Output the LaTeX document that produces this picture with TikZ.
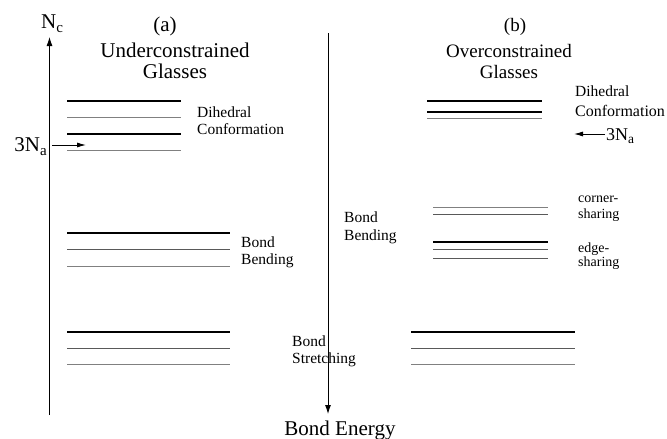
\documentclass[tikz,border=0pt]{standalone}
\usepackage{fontspec}
\setmainfont{Liberation Serif}
\usetikzlibrary{arrows.meta}
\newcommand{\mysub}[2]{\raisebox{-#2}{\fontsize{#1}{#1}\selectfont}}
\begin{document}
\begin{tikzpicture}[x=1pt,y=-1pt,
  big/.style={font=\fontsize{21}{24}\selectfont,inner sep=0pt},
  bigr/.style={font=\fontsize{19}{22}\selectfont,inner sep=0pt},
  small/.style={font=\fontsize{15.5}{17}\selectfont,inner sep=0pt,anchor=base west},
  tiny/.style={font=\fontsize{14}{16}\selectfont,inner sep=0pt,anchor=base west},
  lvA/.style={draw=black,line width=1.3pt},
  lvB/.style={draw=black!65,line width=0.9pt},
  lvC/.style={draw=black!50,line width=0.9pt},
  axis/.style={draw=black,line width=0.9pt,-{Latex[length=9pt,width=6pt]}},
  pt/.style={draw=black,line width=0.9pt,-{Latex[length=9pt,width=5pt]}}]
\useasboundingbox (0,0) rectangle (667,439);
% left axis
\node[big,anchor=base] (nc) at (52,28) {N\raisebox{-4pt}{\fontsize{15}{15}\selectfont c}};
\coordinate (lbot) at (49.5,415);
\coordinate (ltop) at (49.5,37);
\draw[axis] (lbot) -- (ltop);
% headers
\node[big,anchor=base] (ha) at (165,31) {(a)};
\node[big,anchor=base] (hua) at (175,57) {Underconstrained};
\node[big,anchor=base] (hga) at (175,78) {Glasses};
\node[bigr,anchor=base] (hb) at (515,31) {(b)};
\node[bigr,anchor=base] (hob) at (509,57) {Overconstrained};
\node[bigr,anchor=base] (hgb) at (509,78) {Glasses};
% left dihedral
\draw[lvA] (67,101) -- (181,101);
\draw[lvC] (67,117.5) -- (181,117.5);
\draw[lvA] (67,134) -- (181,134);
\draw[lvC] (67,150) -- (181,150);
\node[small] (dl1) at (197,117) {Dihedral};
\node[small] (dl2) at (197,134) {Conformation};
\node[big,anchor=base east] (na) at (47,151) {3N\raisebox{-4pt}{\fontsize{15}{15}\selectfont a}};
\coordinate (naa) at (86,145);
\draw[pt] (52,145) -- (naa);
% left bending
\draw[lvA] (67,233) -- (230,233);
\draw[lvB] (67,249) -- (230,249);
\draw[lvC] (67,266) -- (230,266);
\node[small] (bl1) at (241,247) {Bond};
\node[small] (bl2) at (241,264) {Bending};
% left stretching
\draw[lvA] (67,332) -- (230,332);
\draw[lvB] (67,348) -- (230,348);
\draw[lvC] (67,364.5) -- (230,364.5);
\node[small] (sl1) at (292,346) {Bond};
\node[small] (sl2) at (292,363) {Stretching};
% middle axis
\coordinate (mtop) at (328,33);
\coordinate (mbot) at (328,414);
\draw[axis] (mtop) -- (mbot);
\node[big,anchor=base] (be) at (340,435) {Bond Energy};
% right dihedral
\draw[lvA] (427,101) -- (542,101);
\draw[lvA] (427,112) -- (542,112);
\draw[lvC] (427,118.5) -- (542,118.5);
\node[small] (dr1) at (575,96) {Dihedral};
\node[small,font=\fontsize{16}{17}\selectfont] (dr2) at (575,116) {Conformation};
\node[inner sep=0pt,anchor=base west,font=\fontsize{18}{20}\selectfont] (nb) at (606,140) {3N\raisebox{-3.5pt}{\fontsize{13.5}{13.5}\selectfont a}};
\coordinate (nbb) at (574,134);
\draw[pt] (nb.west |- nbb) ++(-1,0) -- (nbb);
% right bending
\node[small] (br1) at (344,222) {Bond};
\node[small] (br2) at (344,240) {Bending};
\draw[lvC] (433,207) -- (548,207);
\draw[lvB] (433,214) -- (548,214);
\node[tiny] (cs1) at (578,202) {corner-};
\node[tiny] (cs2) at (578,218) {sharing};
\draw[lvA] (433,242) -- (548,242);
\draw[lvB] (433,249) -- (548,249);
\draw[lvB] (433,258) -- (548,258);
\node[tiny] (es1) at (578,252) {edge-};
\node[tiny] (es2) at (578,266) {sharing};
% right stretching
\draw[lvA] (411,332) -- (575,332);
\draw[lvB] (411,348) -- (575,348);
\draw[lvC] (411,364.5) -- (575,364.5);
\end{tikzpicture}
\end{document}
